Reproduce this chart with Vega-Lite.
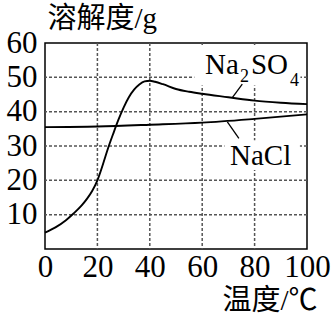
{
  "$schema": "https://vega.github.io/schema/vega-lite/v6.json",
  "width": 262,
  "height": 206,
  "autosize": {"type": "none"},
  "padding": {"left": 45, "top": 43, "right": 26, "bottom": 69},
  "background": "white",
  "config": {
    "view": {"stroke": "black", "strokeWidth": 1.5},
    "axis": {
      "labelFont": "Liberation Serif",
      "labelFontSize": 31,
      "labelColor": "black",
      "titleFont": "Liberation Serif, Noto Sans CJK SC",
      "titleFontSize": 29,
      "titleFontWeight": "normal",
      "titleColor": "black"
    }
  },
  "datasets": {
    "vgrid": [{"g": 20}, {"g": 40}, {"g": 60}, {"g": 80}],
    "hgrid": [{"g": 10}, {"g": 20}, {"g": 30}, {"g": 40}, {"g": 50}],
    "curves": [
      {"t": 0, "s": 4.8, "substance": "Na2SO4"},
      {"t": 4, "s": 6.3, "substance": "Na2SO4"},
      {"t": 8, "s": 8.4, "substance": "Na2SO4"},
      {"t": 11, "s": 10.4, "substance": "Na2SO4"},
      {"t": 14, "s": 12.7, "substance": "Na2SO4"},
      {"t": 16, "s": 14.6, "substance": "Na2SO4"},
      {"t": 18, "s": 16.9, "substance": "Na2SO4"},
      {"t": 20, "s": 20, "substance": "Na2SO4"},
      {"t": 22, "s": 24.4, "substance": "Na2SO4"},
      {"t": 24, "s": 29.2, "substance": "Na2SO4"},
      {"t": 26, "s": 33.5, "substance": "Na2SO4"},
      {"t": 28, "s": 37.6, "substance": "Na2SO4"},
      {"t": 30, "s": 41.2, "substance": "Na2SO4"},
      {"t": 32, "s": 44.2, "substance": "Na2SO4"},
      {"t": 34, "s": 46.4, "substance": "Na2SO4"},
      {"t": 36, "s": 47.9, "substance": "Na2SO4"},
      {"t": 38, "s": 48.8, "substance": "Na2SO4"},
      {"t": 40, "s": 49.0, "substance": "Na2SO4"},
      {"t": 42, "s": 48.7, "substance": "Na2SO4"},
      {"t": 45, "s": 48.0, "substance": "Na2SO4"},
      {"t": 50, "s": 46.6, "substance": "Na2SO4"},
      {"t": 55, "s": 45.8, "substance": "Na2SO4"},
      {"t": 60, "s": 45.2, "substance": "Na2SO4"},
      {"t": 70, "s": 44.2, "substance": "Na2SO4"},
      {"t": 80, "s": 43.2, "substance": "Na2SO4"},
      {"t": 90, "s": 42.6, "substance": "Na2SO4"},
      {"t": 100, "s": 42.2, "substance": "Na2SO4"},
      {"t": 0, "s": 35.5, "substance": "NaCl"},
      {"t": 20, "s": 35.7, "substance": "NaCl"},
      {"t": 40, "s": 36.2, "substance": "NaCl"},
      {"t": 60, "s": 36.8, "substance": "NaCl"},
      {"t": 80, "s": 37.9, "substance": "NaCl"},
      {"t": 100, "s": 39.2, "substance": "NaCl"}
    ],
    "boxes": [
      {"x1": 57, "x2": 97.5, "y1": 47.6, "y2": 59.4},
      {"x1": 68.5, "x2": 97.3, "y1": 23, "y2": 31.7}
    ],
    "leaders": [
      {"x1": 71.5, "y1": 44.1, "x2": 75.3, "y2": 48.0},
      {"x1": 69.6, "y1": 37.0, "x2": 74.0, "y2": 32.2}
    ],
    "bigText": [
      {"lx": 61.1, "ly": 51.1, "label": "Na"},
      {"lx": 78.6, "ly": 51.1, "label": "SO"},
      {"lx": 70.6, "ly": 24.4, "label": "NaCl"}
    ],
    "subText": [
      {"lx": 74.4, "ly": 48.5, "label": "2"},
      {"lx": 93.5, "ly": 47.4, "label": "4"}
    ]
  },
  "layer": [
    {
      "data": {"name": "vgrid"},
      "mark": {"type": "rule", "color": "#555555", "strokeWidth": 1.5, "strokeDash": [3, 2]},
      "encoding": {
        "x": {"field": "g", "type": "quantitative", "scale": {"domain": [0, 100], "nice": false},
              "axis": {"grid": false, "ticks": false, "domain": false, "labelOverlap": false, "labelFlush": false,
                       "values": [0, 20, 40, 60, 80, 100], "labelPadding": 3, "title": "温度/℃",
                       "titleAlign": "right", "titleBaseline": "middle", "titleX": 272, "titleY": 51}}
      }
    },
    {
      "data": {"name": "hgrid"},
      "mark": {"type": "rule", "color": "#555555", "strokeWidth": 1.5, "strokeDash": [3, 2]},
      "encoding": {
        "y": {"field": "g", "type": "quantitative", "scale": {"domain": [0, 60], "nice": false},
              "axis": {"grid": false, "ticks": false, "domain": false, "labelOverlap": false, "labelFlush": false,
                       "values": [10, 20, 30, 40, 50, 60], "labelPadding": 8, "title": "溶解度/g",
                       "titleAngle": 0, "titleAlign": "left", "titleBaseline": "middle", "titleX": 2, "titleY": -25}}
      }
    },
    {
      "data": {"name": "boxes"},
      "mark": {"type": "rect", "fill": "white"},
      "encoding": {
        "x": {"field": "x1", "type": "quantitative"},
        "x2": {"field": "x2"},
        "y": {"field": "y1", "type": "quantitative"},
        "y2": {"field": "y2"}
      }
    },
    {
      "data": {"name": "curves"},
      "mark": {"type": "line", "color": "black", "strokeWidth": 1.9, "interpolate": "monotone"},
      "encoding": {
        "x": {"field": "t", "type": "quantitative"},
        "y": {"field": "s", "type": "quantitative"},
        "detail": {"field": "substance"}
      }
    },
    {
      "data": {"name": "leaders"},
      "mark": {"type": "rule", "color": "black", "strokeWidth": 1.3},
      "encoding": {
        "x": {"field": "x1", "type": "quantitative"},
        "y": {"field": "y1", "type": "quantitative"},
        "x2": {"field": "x2"},
        "y2": {"field": "y2"}
      }
    },
    {
      "data": {"name": "bigText"},
      "mark": {"type": "text", "font": "Liberation Serif", "fontSize": 29, "align": "left", "baseline": "alphabetic", "color": "black"},
      "encoding": {
        "x": {"field": "lx", "type": "quantitative"},
        "y": {"field": "ly", "type": "quantitative"},
        "text": {"field": "label"}
      }
    },
    {
      "data": {"name": "subText"},
      "mark": {"type": "text", "font": "Liberation Serif", "fontSize": 18, "align": "left", "baseline": "alphabetic", "color": "black"},
      "encoding": {
        "x": {"field": "lx", "type": "quantitative"},
        "y": {"field": "ly", "type": "quantitative"},
        "text": {"field": "label"}
      }
    }
  ]
}
